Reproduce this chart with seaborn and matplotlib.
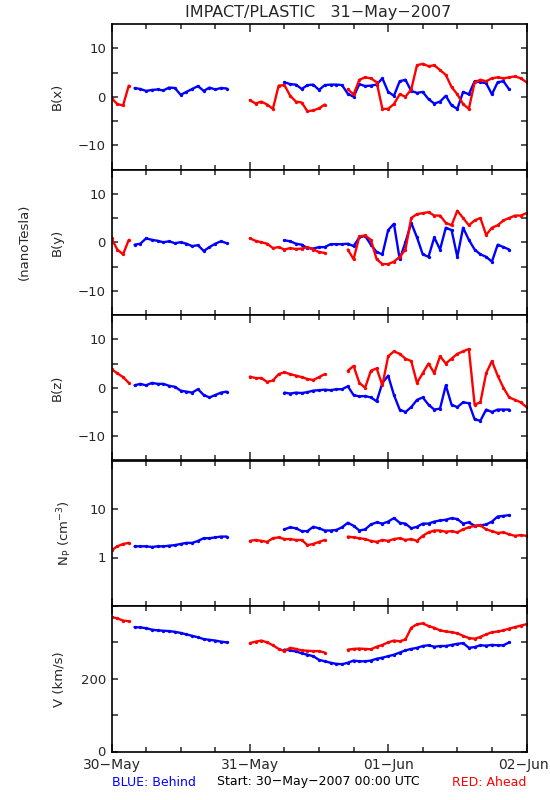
import matplotlib
matplotlib.use("Agg")
import matplotlib.pyplot as plt
import matplotlib.transforms as mtransforms
import numpy as np
import pandas as pd
import seaborn as sns
from matplotlib.ticker import FixedLocator, NullLocator

sns.set_style("ticks")
plt.rcParams["font.family"] = ["DejaVu Sans"]

# ---- data: hours since 30-May-2007 00:00 UTC; each segment = (start hour, hourly values)
BX_BEHIND = [(4, [1.8, 1.6, 1.2, 1.4, 1.5, 1.3, 1.9, 1.8, 0.4, 1.0, 1.6, 2.2, 1.2, 1.9, 1.5, 1.8, 1.7]),
             (30, [3.0, 2.6, 2.5, 1.6, 2.4, 2.5, 1.4, 2.4, 2.5, 2.5,
                   2.4, 0.6, 0.0, 2.6, 2.2, 2.3, 2.5, 3.8, 1.0, 0.2,
                   3.2, 3.5, 1.2, 0.8, 1.0, -0.5, -1.4, -1.0, 0.2, -1.8,
                   -2.5, 1.0, 0.5, 3.2, 3.0, 2.8, 0.5, 3.0, 3.2, 1.5])]
BX_AHEAD = [(0, [-0.3, -1.5, -1.8, 2.3]),
            (24, [-0.7, -1.4, -1.0, -1.6, -2.5, 2.3, 2.4, 0.2, -1.0, -1.2, -3.0, -2.8, -2.4, -1.6]),
            (41, [1.5, 0.5, 3.5, 4.0, 3.8, 3.0, -2.5, -2.5, -1.5, 0.5, 0.0, 1.5,
                  6.5, 6.8, 6.3, 6.5, 5.5, 4.5, 2.0, 0.5, -1.5, -2.5, 3.0, 3.5,
                  3.2, 3.8, 4.0, 3.8, 4.0, 4.2, 3.8, 3.0])]

BY_BEHIND = [(4, [-0.5, -0.3, 0.8, 0.5, 0.3, 0.0, 0.2, -0.2, 0.0, -0.3, -0.8, -0.6, -1.8, -1.0, -0.3, 0.2, -0.2]),
             (30, [0.4, 0.2, -0.3, -0.5, -1.2, -1.3, -1.0, -1.0, -0.4, -0.4,
                   -0.4, -0.3, -0.8, 1.0, 1.3, -0.5, -2.0, -2.5, 2.5, 3.8,
                   -3.5, 0.0, 4.0, 1.0, -2.5, -3.0, 1.0, -1.5, 3.0, 2.5,
                   -3.0, 3.0, 0.5, -1.5, -2.5, -3.0, -4.0, -0.5, -1.0, -1.5])]
BY_AHEAD = [(0, [0.8, -1.5, -2.5, 0.5]),
            (24, [0.8, 0.3, 0.0, -0.3, -1.2, -1.0, -1.5, -1.2, -1.4, -1.3, -1.0, -1.5, -2.0, -2.2]),
            (41, [-1.5, -3.5, 1.2, 1.4, 0.5, -3.5, -4.5, -4.5, -4.0, -3.0, -1.5, 5.0,
                  5.8, 6.0, 6.2, 5.5, 5.5, 4.0, 3.5, 6.5, 5.0, 3.5, 4.5, 5.0,
                  1.5, 3.0, 3.5, 4.5, 5.0, 5.5, 5.5, 6.0])]

BZ_BEHIND = [(4, [0.5, 0.8, 0.5, 1.0, 0.8, 0.8, 0.4, 0.2, -0.6, -0.8, -1.0, -0.3, -1.5, -2.0, -1.5, -1.0, -0.8]),
             (30, [-1.0, -1.2, -1.0, -1.1, -0.9, -0.6, -0.5, -0.4, -0.5, -0.3,
                   -0.3, 0.3, -1.5, -1.8, -1.7, -2.0, -2.8, 1.0, 2.5, -1.5,
                   -4.5, -5.0, -4.0, -2.5, -2.0, -3.5, -4.5, -4.3, 0.5, -3.5,
                   -4.0, -3.0, -3.2, -6.5, -6.8, -4.5, -5.0, -4.5, -4.5, -4.5])]
BZ_AHEAD = [(0, [3.8, 3.0, 2.2, 1.0]),
            (24, [2.3, 2.0, 2.0, 1.2, 1.5, 2.8, 3.2, 2.8, 2.5, 2.2, 1.8, 1.6, 2.2, 2.8]),
            (41, [3.5, 4.5, 1.0, 0.0, 3.5, 4.0, 0.5, 6.5, 7.5, 7.0, 6.0, 5.5,
                  1.0, 3.0, 5.0, 3.0, 6.5, 5.0, 6.0, 7.0, 7.5, 8.0, -3.5, -3.0,
                  3.0, 5.5, 2.5, 0.0, -2.0, -2.5, -3.0, -4.0])]

NP_BEHIND = [(4, [1.7, 1.7, 1.7, 1.65, 1.7, 1.7, 1.75, 1.8, 1.9, 2.0, 2.0, 2.2, 2.5, 2.5, 2.6, 2.7, 2.7]),
             (30, [3.8, 4.2, 4.0, 3.5, 3.5, 4.3, 4.0, 3.6, 3.6, 3.7,
                   4.2, 5.2, 4.5, 3.6, 3.8, 4.8, 5.3, 5.0, 5.5, 6.5,
                   5.2, 5.0, 4.0, 4.3, 5.0, 5.0, 5.5, 5.8, 6.0, 6.5,
                   6.2, 5.0, 5.3, 4.5, 4.6, 4.8, 5.5, 7.0, 7.2, 7.5])]
NP_AHEAD = [(0, [1.4, 1.7, 1.9, 2.0]),
            (24, [2.2, 2.3, 2.2, 2.1, 2.5, 2.6, 2.4, 2.4, 2.3, 2.3, 1.8, 1.9, 2.1, 2.3]),
            (41, [2.7, 2.6, 2.5, 2.4, 2.2, 2.1, 2.3, 2.2, 2.4, 2.5, 2.3, 2.4,
                  2.2, 2.8, 3.3, 3.6, 3.6, 3.4, 3.5, 3.3, 3.8, 4.2, 4.5, 4.6,
                  3.8, 3.5, 3.2, 3.3, 3.0, 2.8, 2.9, 2.8])]

V_BEHIND = [(4, [342, 341, 339, 335, 333, 332, 331, 329, 326, 322, 318, 314, 309, 307, 305, 302, 300]),
            (30, [280, 278, 275, 270, 266, 262, 252, 248, 244, 241,
                  240, 244, 250, 248, 248, 250, 255, 258, 262, 266,
                  272, 278, 282, 285, 290, 292, 288, 290, 290, 293,
                  296, 298, 285, 287, 292, 291, 293, 292, 292, 300])]
V_AHEAD = [(0, [370, 366, 360, 358]),
           (24, [298, 302, 305, 300, 292, 282, 276, 285, 282, 278, 277, 276, 276, 272]),
           (41, [280, 282, 283, 282, 281, 288, 293, 300, 305, 303, 308, 340,
                 350, 352, 345, 340, 333, 330, 328, 325, 318, 312, 310, 315,
                 322, 328, 330, 333, 338, 342, 346, 350])]

DAY_TICKS = [0, 24, 48, 72]
DAY_LABELS = ["30\u2212May", "31\u2212May", "01\u2212Jun", "02\u2212Jun"]
PANEL_LABELS = ["B(x)", "B(y)", "B(z)", r"N$_\mathregular{P}$ (cm$^{\mathregular{-3}}$)", "V (km/s)"]

BLUE = "#0000ff"
RED = "#ff0000"


def build_frame(behind, ahead):
    rows = []
    for craft, segs in (("Behind", behind), ("Ahead", ahead)):
        for k, (start, vals) in enumerate(segs):
            for i, v in enumerate(vals):
                rows.append((start + i, v, craft, f"{craft}{k}"))
    return pd.DataFrame(rows, columns=["hour", "value", "craft", "seg"])


panels = [(BX_BEHIND, BX_AHEAD), (BY_BEHIND, BY_AHEAD), (BZ_BEHIND, BZ_AHEAD),
          (NP_BEHIND, NP_AHEAD), (V_BEHIND, V_AHEAD)]

fig = plt.figure(figsize=(5.5, 8), dpi=100)
axes = fig.subplots(5, 1, sharex=True)
fig.subplots_adjust(left=111.5 / 550, right=526.5 / 550, top=1 - 24 / 800,
                    bottom=1 - 751.5 / 800, hspace=0)

label_x = [64, 64, 64, 74, 66]

for idx, (ax, (b, a)) in enumerate(zip(axes, panels)):
    df = build_frame(b, a)
    sns.lineplot(data=df, x="hour", y="value", hue="craft", units="seg", estimator=None,
                 hue_order=["Behind", "Ahead"], palette={"Behind": BLUE, "Ahead": RED},
                 legend=False, ax=ax, lw=1.7, marker="o", markersize=2.4,
                 markeredgewidth=0, sort=False)
    ax.set_xlim(0, 72)
    ax.xaxis.set_major_locator(FixedLocator(DAY_TICKS))
    ax.xaxis.set_minor_locator(FixedLocator([h for h in range(0, 73, 6) if h % 24]))
    ax.tick_params(axis="x", which="major", direction="in", length=6, width=1.1,
                   top=True, bottom=True)
    ax.tick_params(axis="x", which="minor", direction="in", length=3.6, width=1.1,
                   top=True, bottom=True)
    ax.tick_params(axis="y", which="both", direction="in", length=4.5, width=1.1,
                   left=True, right=True, labelsize=9.5, pad=4)
    for sp in ax.spines.values():
        sp.set_linewidth(1.2)
        sp.set_color("black")
        sp.set_visible(True)
    ax.set_xlabel("")
    ax.set_ylabel(PANEL_LABELS[idx], fontsize=9.5)
    ax.yaxis.set_label_coords((label_x[idx] - 111.5) / 415, 0.5)

    if idx < 3:
        ax.set_ylim(-15, 15)
        ax.yaxis.set_major_locator(FixedLocator([-10, 0, 10]))
        ax.set_yticklabels(["\u221210", "0", "10"])
        ax.yaxis.set_minor_locator(FixedLocator([-5, 5]))
    elif idx == 3:
        ax.set_yscale("log")
        ax.set_ylim(0.1, 100)
        ax.yaxis.set_major_locator(FixedLocator([1, 10]))
        ax.set_yticklabels(["1", "10"])
        ax.yaxis.set_minor_locator(NullLocator())
    else:
        ax.set_ylim(0, 400)
        ax.yaxis.set_major_locator(FixedLocator([0, 100, 200, 300, 400]))
        ax.set_yticklabels(["0", "", "200", "", ""])
        ax.yaxis.set_minor_locator(NullLocator())

axes[-1].set_xticks(DAY_TICKS)
axes[-1].set_xticklabels(DAY_LABELS, fontsize=10)
axes[-1].tick_params(axis="x", which="major", pad=5)
for ax in axes[:-1]:
    ax.tick_params(axis="x", labelbottom=False)

# keep the last date label inside the canvas (it sits at the right edge)
last = axes[-1].get_xticklabels()[-1]
last.set_horizontalalignment("right")
last.set_transform(last.get_transform() +
                   mtransforms.ScaledTranslation(22 / 100, 0, fig.dpi_scale_trans))

fig.text(318 / 550, 1 - 12 / 800, "IMPACT/PLASTIC   31\u2212May\u22122007",
         ha="center", va="center", fontsize=11.5)
fig.text(24 / 550, 1 - 242 / 800, "(nanoTesla)", rotation=90, ha="center",
         va="center", fontsize=9.5)
fig.text(111.5 / 550, 1 - 782 / 800, "BLUE: Behind", color=BLUE, ha="left",
         va="center", fontsize=9)
fig.text(318 / 550, 1 - 782 / 800, "Start: 30\u2212May\u22122007 00:00 UTC",
         color="black", ha="center", va="center", fontsize=9)
fig.text(526.5 / 550, 1 - 782 / 800, "RED: Ahead", color=RED, ha="right",
         va="center", fontsize=9)

fig.savefig("out.png", dpi=100)
